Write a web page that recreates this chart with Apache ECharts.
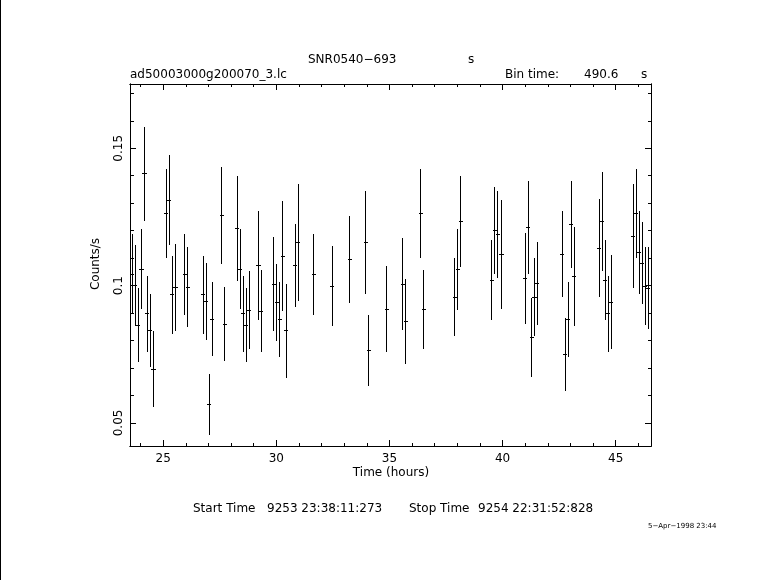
<!DOCTYPE html>
<html>
<head>
<meta charset="utf-8">
<script src="https://cdn.jsdelivr.net/npm/echarts@6/dist/echarts.min.js"></script>
<style>
html,body{margin:0;padding:0;background:#fff;}
#chart{width:781px;height:580px;}
</style>
</head>
<body>
<div id="chart"></div>
<script>
// ---- data ----
const times = [23.62, 23.77, 23.90, 24.04, 24.17, 24.30, 24.43, 24.57,
  25.14, 25.27, 25.40, 25.54, 25.95, 26.08,
  26.77, 26.90, 27.03, 27.17, 27.58, 27.71,
  28.27, 28.40, 28.53, 28.67, 28.80, 29.21, 29.34,
  29.89, 30.02, 30.15, 30.28, 30.43, 30.84, 30.97,
  31.66, 32.46, 33.25, 33.96, 34.09, 34.88, 35.59, 35.72, 36.38, 36.51,
  37.88, 38.01, 38.15, 39.53, 39.66, 39.79, 39.95,
  41.01, 41.14, 41.28, 41.41, 41.54,
  42.64, 42.77, 42.91, 43.04, 43.17,
  44.27, 44.41, 44.54, 44.67, 44.80,
  45.77, 45.91, 46.04, 46.17, 46.30, 46.43];
const rates = [0.1041, 0.1000, 0.0856, 0.1059, 0.1407, 0.0897, 0.0837, 0.0695,
  0.1263, 0.1311, 0.0966, 0.0994, 0.1041, 0.0994,
  0.0966, 0.0942, 0.0568, 0.0877, 0.1256, 0.0860,
  0.1209, 0.1059, 0.0897, 0.0856, 0.0910, 0.1074, 0.0907,
  0.1005, 0.0939, 0.0877, 0.1107, 0.0835, 0.1072, 0.1158,
  0.1041, 0.0998, 0.1096, 0.1158, 0.0765, 0.0914, 0.1005, 0.0870, 0.1263, 0.0914,
  0.0958, 0.1059, 0.1234, 0.1019, 0.1201, 0.1187, 0.1114,
  0.1027, 0.1212, 0.0812, 0.0958, 0.1008,
  0.1114, 0.0750, 0.0877, 0.1223, 0.1034,
  0.1136, 0.1234, 0.1019, 0.0897, 0.0939,
  0.1180, 0.1263, 0.1121, 0.1081, 0.0998, 0.0990];
const errors = [0.0146, 0.0146, 0.0134, 0.0146, 0.0171, 0.0138, 0.0132, 0.0138,
  0.0161, 0.0165, 0.0141, 0.0158, 0.0147, 0.0145,
  0.0141, 0.0140, 0.0111, 0.0135, 0.0177, 0.0134,
  0.0191, 0.0146, 0.0138, 0.0134, 0.0142, 0.0198, 0.0149,
  0.0172, 0.0140, 0.0136, 0.0200, 0.0171, 0.0151, 0.0213,
  0.0147, 0.0146, 0.0158, 0.0188, 0.0129, 0.0156, 0.0168, 0.0155, 0.0161, 0.0144,
  0.0142, 0.0147, 0.0166, 0.0146, 0.0158, 0.0158, 0.0198,
  0.0165, 0.0169, 0.0143, 0.0142, 0.0151,
  0.0157, 0.0132, 0.0136, 0.0158, 0.0180,
  0.0178, 0.0180, 0.0146, 0.0138, 0.0171,
  0.0189, 0.0162, 0.0151, 0.0149, 0.0142, 0.0149];
const binTimeSec = 490.6;

const xMajorTicks = [25, 30, 35, 40, 45];
const xMinorTicks = [24, 25, 26, 27, 28, 29, 30, 31, 32, 33, 34, 35, 36, 37, 38, 39, 40, 41, 42, 43, 44, 45, 46];
const yMajorTicks = [0.05, 0.1, 0.15];
const yMinorTicks = [0.05, 0.06, 0.07, 0.08, 0.09, 0.1, 0.11, 0.12, 0.13, 0.14, 0.15, 0.16, 0.17];
const xRange = [23.53, 46.56];
const yRange = [0.0416, 0.1734];

const titleText = 'SNR0540\u2212693';
const fileText = 'ad50003000g200070_3.lc';
const xTitle = 'Time (hours)';
const yTitle = 'Counts/s';
const startLabel = 'Start Time';
const startValue = '9253 23:38:11:273';
const stopLabel = 'Stop Time';
const stopValue = '9254 22:31:52:828';
const dateText = '5\u2212Apr\u22121998 23:44';

// ---- chart ----
const FONT = '"DejaVu Sans", sans-serif';
const halfBin = binTimeSec / 3600 / 2;
const points = times.map((t, i) => [t, rates[i], errors[i]]);

function xAx(pos, ticks, len, labels) {
  return {
    type: 'value', position: pos, min: xRange[0], max: xRange[1],
    axisLine: { show: true, onZero: false, lineStyle: { color: '#000', width: 1 } },
    axisTick: { show: true, inside: true, length: len, customValues: ticks, lineStyle: { color: '#000', width: 1 } },
    axisLabel: labels ? { show: true, customValues: xMajorTicks, color: '#000', fontSize: 12, fontFamily: FONT, margin: 7 } : { show: false },
    splitLine: { show: false }
  };
}
function yAx(pos, ticks, len, labels) {
  return {
    type: 'value', position: pos, min: yRange[0], max: yRange[1],
    axisLine: { show: true, onZero: false, lineStyle: { color: '#000', width: 1 } },
    axisTick: { show: true, inside: true, length: len, customValues: ticks, lineStyle: { color: '#000', width: 1 } },
    axisLabel: labels ? { show: true, customValues: yMajorTicks, rotate: 90, color: '#000', fontSize: 12, fontFamily: FONT, margin: 5,
      formatter: v => String(+v.toFixed(3)) } : { show: false },
    splitLine: { show: false }
  };
}

const chart = echarts.init(document.getElementById('chart'), null, { renderer: 'canvas' });
const txt = (x, y, s, size, extra) => Object.assign({
  type: 'text', x: x, y: y,
  style: { text: s, fill: '#000', font: (size || 12) + 'px ' + FONT, textVerticalAlign: 'middle', textAlign: 'left' }
}, extra || {});
const snap = p => Math.round(p - 0.5) + 0.5;

chart.setOption({
  animation: false,
  backgroundColor: '#fff',
  grid: { left: 130, right: 130, top: 84, bottom: 134 },
  xAxis: [
    xAx('bottom', xMajorTicks, 6, true),
    xAx('bottom', xMinorTicks, 3, false),
    xAx('top', xMajorTicks, 6, false),
    xAx('top', xMinorTicks, 3, false)
  ],
  yAxis: [
    yAx('left', yMajorTicks, 6, true),
    yAx('left', yMinorTicks, 4, false),
    yAx('right', yMajorTicks, 6, false),
    yAx('right', yMinorTicks, 3, false)
  ],
  series: [{
    type: 'custom',
    xAxisIndex: 0, yAxisIndex: 0,
    clip: true,
    data: points,
    renderItem: function (params, api) {
      const t = api.value(0), v = api.value(1), e = api.value(2);
      const top = api.coord([t, v + e]);
      const bot = api.coord([t, v - e]);
      const l = api.coord([t - halfBin, v]);
      const r = api.coord([t + halfBin, v]);
      const xc = snap(top[0]);
      const yc = snap(l[1]);
      const st = { stroke: '#000', lineWidth: 1 };
      return {
        type: 'group',
        children: [
          { type: 'line', shape: { x1: xc, y1: Math.round(top[1]), x2: xc, y2: Math.round(bot[1]) }, style: st },
          { type: 'line', shape: { x1: Math.floor(l[0]), y1: yc, x2: Math.ceil(r[0]), y2: yc }, style: st }
        ]
      };
    }
  }],
  graphic: [
    { type: 'line', shape: { x1: 0.5, y1: 0, x2: 0.5, y2: 580 }, style: { stroke: '#000', lineWidth: 1 } },
    txt(308, 60, titleText),
    txt(468, 60, 's'),
    txt(130, 75, fileText),
    txt(505, 75, 'Bin time:'),
    txt(584, 75, String(binTimeSec)),
    txt(641, 75, 's'),
    { type: 'text', x: 391, y: 473,
      style: { text: xTitle, fill: '#000', font: '12px ' + FONT, textVerticalAlign: 'middle', textAlign: 'center' } },
    { type: 'text', x: 96, y: 264, rotation: Math.PI / 2,
      style: { text: yTitle, fill: '#000', font: '12px ' + FONT, textVerticalAlign: 'middle', textAlign: 'center' } },
    txt(193, 509, startLabel),
    txt(267, 509, startValue),
    txt(409, 509, stopLabel),
    txt(478, 509, stopValue),
    txt(648, 526, dateText, 7)
  ]
});
</script>
</body>
</html>
